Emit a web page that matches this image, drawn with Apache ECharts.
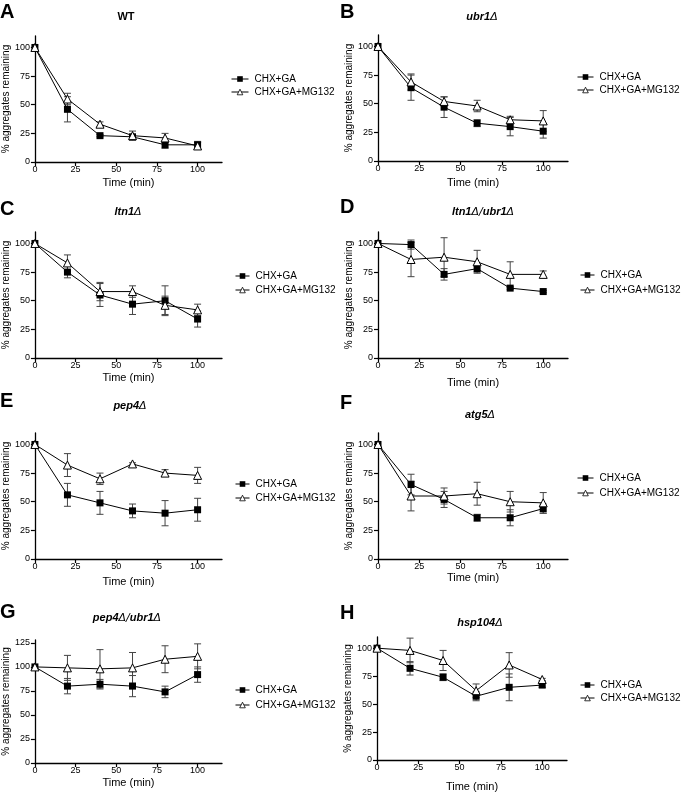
<!DOCTYPE html>
<html>
<head>
<meta charset="utf-8">
<script src="https://cdn.jsdelivr.net/npm/echarts@6/dist/echarts.min.js"></script>
<style>
  html, body { margin: 0; padding: 0; background: #fff; }
  #main { width: 683px; height: 793px; }
</style>
</head>
<body>
<div id="main"></div>
<script>
var times = [0, 20, 40, 60, 80, 100];
var xTicks = [0, 25, 50, 75, 100];
var yTicks = [0, 25, 50, 75, 100];
var yTicksG = [0, 25, 50, 75, 100, 125];
var seriesNames = ['CHX+GA', 'CHX+GA+MG132'];
var panelLetters = ['A', 'B', 'C', 'D', 'E', 'F', 'G', 'H'];
var panelTitles = ['WT', 'ubr1Δ', 'ltn1Δ', 'ltn1Δ/ubr1Δ', 'pep4Δ', 'atg5Δ', 'pep4Δ/ubr1Δ', 'hsp104Δ'];

// mean and error (CHX+GA = ga, CHX+GA+MG132 = mg)
var gaA = [100, 46, 23, 22, 15, 15],  gaAErr = [0, 11, 1, 2, 3, 3];
var mgA = [100, 55, 33, 23, 21, 14],  mgAErr = [0, 5, 2, 4, 4, 3];
var gaB = [100, 64, 47, 33, 30, 26],  gaBErr = [0, 11, 9, 3, 8, 6];
var mgB = [100, 69, 52, 48, 36, 35],  mgBErr = [0, 7, 4, 5, 3, 9];
var gaC = [100, 75, 55, 47, 50, 34],  gaCErr = [0, 5, 10, 9, 13, 7];
var mgC = [100, 83, 58, 58, 46, 42],  mgCErr = [0, 7, 8, 5, 8, 5];
var gaD = [100, 99, 73, 78, 61, 58],  gaDErr = [0, 4, 5, 3, 1, 1];
var mgD = [100, 86, 88, 84, 73, 73],  mgDErr = [0, 15, 17, 10, 11, 3];
var gaE = [100, 56, 49, 42, 40, 43],  gaEErr = [0, 10, 10, 6, 11, 10];
var mgE = [100, 82, 70, 83, 75, 73],  mgEErr = [0, 10, 5, 1, 3, 7];
var gaF = [100, 65, 52, 36, 36, 44],  gaFErr = [0, 9, 7, 3, 7, 4];
var mgF = [100, 55, 55, 57, 50, 49],  mgFErr = [0, 13, 7, 10, 9, 9];
var gaG = [100, 80, 82, 80, 74, 92],  gaGErr = [0, 8, 5, 11, 6, 8];
var mgG = [100, 99, 98, 99, 108, 111], mgGErr = [0, 13, 20, 16, 14, 13];
var gaH = [100, 82, 74, 57, 65, 67],  gaHErr = [0, 6, 3, 4, 12, 2];
var mgH = [100, 98, 89, 62, 85, 72],  mgHErr = [0, 11, 9, 6, 11, 1];

var ga = [gaA, gaB, gaC, gaD, gaE, gaF, gaG, gaH];
var gaErr = [gaAErr, gaBErr, gaCErr, gaDErr, gaEErr, gaFErr, gaGErr, gaHErr];
var mg = [mgA, mgB, mgC, mgD, mgE, mgF, mgG, mgH];
var mgErr = [mgAErr, mgBErr, mgCErr, mgDErr, mgEErr, mgFErr, mgGErr, mgHErr];

// layout: grid left, y of zero line, y max, legend pos, icon width, gap, title pos, letter pos, x name gap
var layout = [
  { l: 32,  y0: 162, ymax: 110, h: 126, lg: [231, 74],  iw: 17, ig: 3, t: [126, 17],  lt: [0, 12],    xg: 15 },
  { l: 378, y0: 161, ymax: 110, h: 126, lg: [577, 72],  iw: 16, ig: 3, t: [482, 17],  lt: [340, 12],  xg: 16 },
  { l: 32,  y0: 358, ymax: 110, h: 126, lg: [235, 271], iw: 14, ig: 4, t: [128, 212], lt: [0, 209],   xg: 14 },
  { l: 378, y0: 358, ymax: 110, h: 126, lg: [580, 270], iw: 14, ig: 5, t: [483, 212], lt: [340, 207], xg: 19 },
  { l: 32,  y0: 559, ymax: 110, h: 126, lg: [235, 479], iw: 14, ig: 4, t: [130, 406], lt: [0, 401],   xg: 17 },
  { l: 378, y0: 559, ymax: 110, h: 126, lg: [577, 473], iw: 16, ig: 5, t: [480, 415], lt: [340, 403], xg: 13 },
  { l: 32,  y0: 763, ymax: 128, h: 123, lg: [235, 685], iw: 14, ig: 5, t: [127, 618], lt: [0, 612],   xg: 14 },
  { l: 377, y0: 763, ymax: 110, h: 126, lg: [580, 680], iw: 14, ig: 3, t: [480, 623], lt: [340, 613], xg: 21 }
];

var black = '#000';
var grids = [], xAxes = [], yAxes = [], series = [], legends = [], graphics = [];

function errBars(gi, vals, errs) {
  var d = [];
  for (var i = 0; i < times.length; i++) {
    if (errs[i] > 0) d.push([times[i], vals[i] - errs[i], vals[i] + errs[i]]);
  }
  return {
    type: 'custom',
    name: 'err',
    xAxisIndex: gi,
    yAxisIndex: gi,
    encode: { x: 0, y: [1, 2] },
    z: 1,
    silent: true,
    renderItem: function (params, api) {
      var x = api.value(0);
      var lo = api.coord([x, api.value(1)]);
      var hi = api.coord([x, api.value(2)]);
      var w = 3.5;
      var st = { stroke: '#444', lineWidth: 1 };
      return {
        type: 'group',
        children: [
          { type: 'line', shape: { x1: lo[0], y1: lo[1], x2: hi[0], y2: hi[1] }, style: st },
          { type: 'line', shape: { x1: lo[0] - w, y1: lo[1], x2: lo[0] + w, y2: lo[1] }, style: st },
          { type: 'line', shape: { x1: hi[0] - w, y1: hi[1], x2: hi[0] + w, y2: hi[1] }, style: st }
        ]
      };
    },
    data: d
  };
}

function titleRich(s) {
  if (s === 'WT') return '{w|WT}';
  var parts = s.split(/([Δ\/])/);
  var out = '';
  for (var i = 0; i < parts.length; i++) {
    if (!parts[i]) continue;
    out += (parts[i] === 'Δ' || parts[i] === '/') ? '{d|' + parts[i] + '}' : '{g|' + parts[i] + '}';
  }
  return out;
}

for (var gi = 0; gi < 8; gi++) {
  var L = layout[gi];
  grids.push({ left: L.l, top: L.y0 - L.h, width: 190, height: L.h });

  xAxes.push({
    gridIndex: gi, type: 'value', min: 0, max: 115,
    name: 'Time (min)', nameLocation: 'middle', nameGap: L.xg,
    nameTextStyle: { fontSize: 11, color: black },
    axisLine: { show: true, onZero: false, lineStyle: { color: black, width: 1.3 } },
    axisTick: { show: true, length: 4, customValues: xTicks, lineStyle: { color: black, width: 1.2 } },
    axisLabel: { customValues: xTicks, fontSize: 9, margin: 3, color: black },
    splitLine: { show: false }
  });

  var yt = gi === 6 ? yTicksG : yTicks;
  yAxes.push({
    gridIndex: gi, type: 'value', min: 0, max: L.ymax,
    name: '% aggregates remaining', nameLocation: 'middle', nameGap: 20,
    nameTextStyle: { fontSize: 10, color: black },
    axisLine: { show: true, onZero: false, lineStyle: { color: black, width: 1.3 } },
    axisTick: { show: true, length: 4, customValues: yt, lineStyle: { color: black, width: 1.2 } },
    axisLabel: { customValues: yt, fontSize: 9, margin: 5, color: black },
    splitLine: { show: false }
  });

  series.push(errBars(gi, ga[gi], gaErr[gi]));
  series.push(errBars(gi, mg[gi], mgErr[gi]));

  series.push({
    type: 'line', name: seriesNames[0], xAxisIndex: gi, yAxisIndex: gi,
    data: times.map(function (t, i) { return [t, ga[gi][i]]; }),
    symbol: 'rect', symbolSize: 7, z: 3,
    itemStyle: { color: black },
    lineStyle: { color: black, width: 1 },
    emphasis: { disabled: true }
  });
  series.push({
    type: 'line', name: seriesNames[1], xAxisIndex: gi, yAxisIndex: gi,
    data: times.map(function (t, i) { return [t, mg[gi][i]]; }),
    symbol: 'triangle', symbolSize: 8, z: 4,
    itemStyle: { color: '#fff', borderColor: black, borderWidth: 1 },
    lineStyle: { color: black, width: 1 },
    emphasis: { disabled: true }
  });

  legends.push({
    left: L.lg[0], top: L.lg[1], orient: 'vertical', padding: 0,
    itemWidth: L.iw, itemHeight: 7, itemGap: L.ig, selectedMode: false,
    lineStyle: { width: 1 },
    itemStyle: { borderWidth: 0.8 },
    textStyle: { fontSize: 10, color: black, padding: [0, 0, 0, 1] },
    data: seriesNames
  });

  graphics.push({
    type: 'text', x: L.lt[0], y: L.lt[1],
    style: { text: panelLetters[gi], fontSize: 20, fontWeight: 'bold', fill: black,
      fontFamily: 'Liberation Sans, Arial, sans-serif', align: 'left', verticalAlign: 'middle' }
  });
  graphics.push({
    type: 'text', x: L.t[0], y: L.t[1],
    style: {
      text: titleRich(panelTitles[gi]), align: 'center', verticalAlign: 'middle', fill: black,
      fontFamily: 'Liberation Sans, Arial, sans-serif', fontSize: 11,
      rich: {
        w: { fontSize: 11, fontWeight: 'bold', fill: black, fontFamily: 'Liberation Sans, Arial, sans-serif' },
        g: { fontSize: 11, fontWeight: 'bold', fontStyle: 'italic', fill: black, fontFamily: 'Liberation Sans, Arial, sans-serif' },
        d: { fontSize: 11, fontStyle: 'italic', fill: black, fontFamily: 'DejaVu Sans, sans-serif' }
      }
    }
  });
}

var chart = echarts.init(document.getElementById('main'), null, { renderer: 'canvas' });
chart.setOption({
  backgroundColor: '#fff',
  animation: false,
  textStyle: { fontFamily: 'Liberation Sans, Arial, sans-serif', color: black },
  grid: grids,
  xAxis: xAxes,
  yAxis: yAxes,
  legend: legends,
  series: series,
  graphic: graphics
});
</script>
</body>
</html>
